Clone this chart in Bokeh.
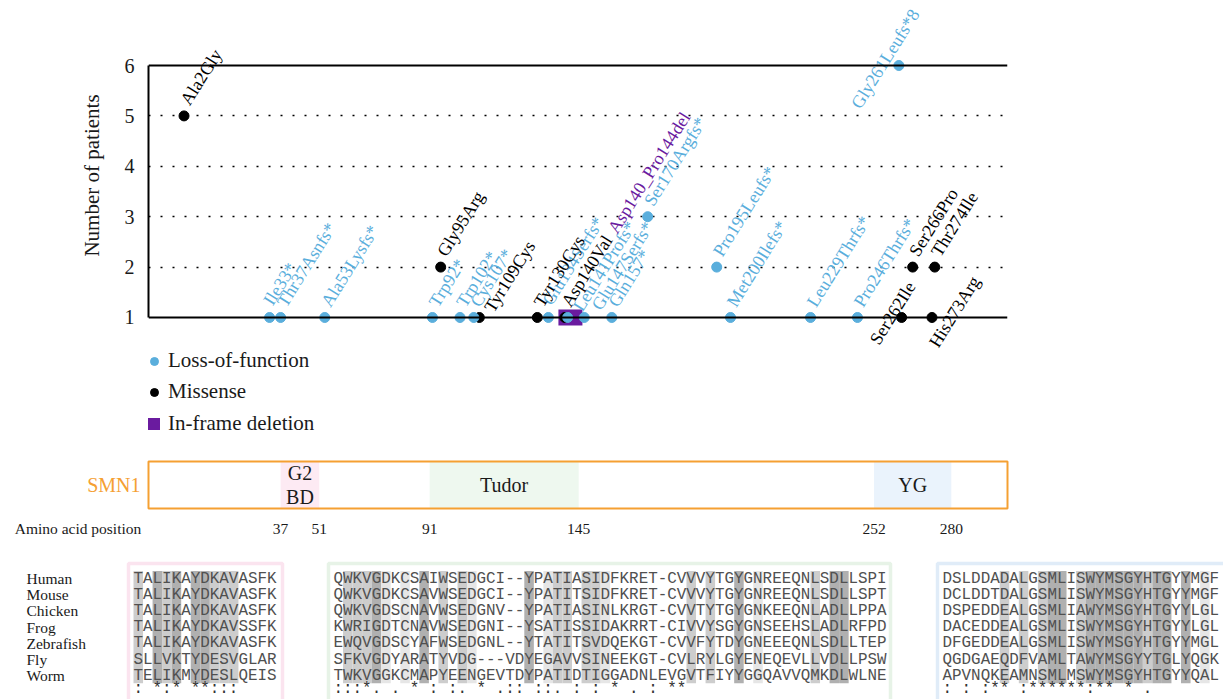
import numpy as np
from bokeh.plotting import figure
from bokeh.models import (ColumnDataSource, Range1d, FixedTicker, Span, Label,
                          Legend, LegendItem)
from bokeh.layouts import column
from bokeh.embed import file_html
from bokeh.resources import INLINE
from bokeh.core.properties import value

# ---------------- data ----------------
lof_labels = ["Ile33*", "Thr37Asnfs*", "Ala53Lysfs*", "Trp92*", "Trp102*", "Cys107*",
              "Glu134Serfs*", "Leu141Profs*", "Glu147Serfs*", "Gln157*", "Ser170Argfs*",
              "Pro195Leufs*", "Met200Ilefs*", "Leu229Thrfs*", "Pro246Thrfs*", "Gly261Leufs*8"]
lof_pos = [33, 37, 53, 92, 102, 107, 134, 141, 147, 157, 170, 195, 200, 229, 246, 261]
lof_patients = [1, 1, 1, 1, 1, 1, 1, 1, 1, 1, 3, 2, 1, 1, 1, 6]

mis_labels = ["Ala2Gly", "Gly95Arg", "Tyr109Cys", "Tyr130Cys", "Asp140Val",
              "Ser262Ile", "Ser266Pro", "His273Arg", "Thr274Ile"]
mis_pos = [2, 95, 109, 130, 140, 262, 266, 273, 274]
mis_patients = [5, 2, 1, 1, 1, 1, 2, 1, 2]

del_labels = ["Asp140_Pro144del"]
del_start = [140]
del_end = [144]
del_patients = [1]

legend_labels = ["Loss-of-function", "Missense", "In-frame deletion"]

domain_names = ["G2\nBD", "Tudor", "YG"]
domain_start = [37, 91, 252]
domain_end = [51, 145, 280]
aa_ticks = [37, 51, 91, 145, 252, 280]

species = ["Human", "Mouse", "Chicken", "Frog", "Zebrafish", "Fly", "Worm"]
g2bd_seqs = ["TALIKAYDKAVASFK", "TALIKAYDKAVASFK", "TALIKAYDKAVASFK", "TALIKAYDKAVSSFK",
             "TALIKAYDKAVASFK", "SLLVKTYDESVGLAR", "TELIKMYDESLQEIS"]
g2bd_cons = ": *:* **:::    "
tudor_seqs = ["QWKVGDKCSAIWSEDGCI--YPATIASIDFKRET-CVVVYTGYGNREEQNLSDLLSPI",
              "QWKVGDKCSAVWSEDGCI--YPATITSIDFKRET-CVVVYTGYGNREEQNLSDLLSPT",
              "QWKVGDSCNAVWSEDGNV--YPATIASINLKRGT-CVVTYTGYGNKEEQNLADLLPPA",
              "KWRIGDTCNAVWSEDGNI--YSATISSIDAKRRT-CIVVYSGYGNSEEHSLADLRFPD",
              "EWQVGDSCYAFWSEDGNL--YTATITSVDQEKGT-CVVFYTDYGNEEEQNLSDLLTEP",
              "SFKVGDYARATYVDG---VDYEGAVVSINEEKGT-CVLRYLGYENEQEVLLVDLLPSW",
              "TWKVGGKCMAPYEENGEVTDYPATIDTIGGADNLEVGVTFIYYGGQAVVQMKDLWLNE"]
tudor_cons = " :::*. . * : :.     * .:: ::.        : :  * .     : **    "
yg_seqs = ["DSLDDADALGSMLISWYMSGYHTGYYMGF", "DCLDDTDALGSMLISWYMSGYHTGYYMGF",
           "DSPEDDEALGSMLIAWYMSGYHTGYYLGL", "DACEDDEALGSMLISWYMSGYHTGYYLGL",
           "DFGEDDEALGSMLISWYMSGYHTGYYMGL", "QGDGAEQDFVAMLTAWYMSGYYTGLYQGK",
           "APVNQKEAMNSMLMSWYMSGYHTGYYQAL"]
yg_cons = "      : : :** :******:** * . "

# ---------------- style / layout ----------------
BLUE = "#5AAEDC"
BLACK = "#000000"
PURPLE = "#6A1B9F"
ORANGE = "#F5A032"
TXT = "#1a1a1a"
SERIF = "Liberation Serif"
MONO = "Liberation Mono"
W = 1223
FL, FR = 148, 216                    # left / right borders of the plot frame (px)
XS, XE = -10.87, 300.36              # amino-acid range shown across the frame
K = (W - FL - FR) / (XE - XS)        # px per amino acid
TH = np.deg2rad(58.0)
DEFAULT_PLACE = (11.0, 6.0)          # (along text, perpendicular) in px
PLACE = {"Ile33*": (11, 9), "Tyr109Cys": (11, -4), "Glu134Serfs*": (11, 9),
         "Leu141Profs*": (12, -4), "Glu147Serfs*": (14, -5),
         "Gly261Leufs*8": (-58, 15), "His273Arg": (-23, -16),
         "Asp140_Pro144del": (95, 10), "Ser262Ile": (34, 10)}
RIGHT = {"Ser262Ile"}


def offs(lab):
    a, q = PLACE.get(lab, DEFAULT_PLACE)
    return a * np.cos(TH) - q * np.sin(TH), -a * np.sin(TH) - q * np.cos(TH)


# ---------------- top plot ----------------
TOPH = 350
xr = Range1d(XS, XE)
p = figure(width=W, height=TOPH, x_range=xr, y_range=Range1d(0.345, 7.29),
           x_axis_location=None, toolbar_location=None, output_backend="svg",
           min_border_left=FL, min_border_right=FR, min_border_top=0, min_border_bottom=0)
p.outline_line_color = None
p.xgrid.visible = False
p.ygrid.ticker = FixedTicker(ticks=[2, 3, 4, 5])
p.ygrid.grid_line_color = "black"
p.ygrid.grid_line_dash = "2 10"
p.ygrid.grid_line_width = 1.3
p.yaxis.ticker = FixedTicker(ticks=[1, 2, 3, 4, 5, 6])
p.yaxis.bounds = (1, 6)
p.yaxis.axis_line_width = 2
p.yaxis.axis_line_color = "black"
p.yaxis.major_tick_line_color = None
p.yaxis.minor_tick_line_color = None
p.yaxis.major_label_standoff = 8
p.yaxis.major_label_text_font = SERIF
p.yaxis.major_label_text_font_size = "20px"
p.yaxis.major_label_text_color = TXT
p.yaxis.axis_label = "Number of patients"
p.yaxis.axis_label_standoff = 18
p.yaxis.axis_label_text_font = SERIF
p.yaxis.axis_label_text_font_size = "21px"
p.yaxis.axis_label_text_font_style = "normal"
p.yaxis.axis_label_text_color = TXT
for loc in (1, 6):
    p.add_layout(Span(location=loc, dimension="width", line_color="black", line_width=2))

del_mid = [(s + e) / 2 for s, e in zip(del_start, del_end)]
p.rect(x=del_mid, y=del_patients, width=24, height=16, width_units="screen",
       height_units="screen", fill_color=PURPLE, line_color=None)
p.scatter(mis_pos, mis_patients, size=10, color=BLACK)
p.scatter(lof_pos, lof_patients, size=10, color=BLUE)

groups = [(lof_labels, lof_pos, lof_patients, BLUE),
          (mis_labels, mis_pos, mis_patients, BLACK),
          (del_labels, del_mid, del_patients, PURPLE)]
for labs, xs, ys, col in groups:
    for align in ("left", "right"):
        sel = [i for i, l in enumerate(labs) if (l in RIGHT) == (align == "right")]
        if not sel:
            continue
        src = ColumnDataSource(dict(
            x=[xs[i] for i in sel], y=[ys[i] for i in sel], t=[labs[i] for i in sel],
            xo=[offs(labs[i])[0] for i in sel], yo=[offs(labs[i])[1] for i in sel]))
        p.text(x="x", y="y", text="t", x_offset="xo", y_offset="yo", source=src,
               angle=TH, text_align=align, text_baseline="alphabetic",
               text_font=value(SERIF), text_font_size="18px", text_color=col)

# ---------------- legend + domain bar ----------------
dom_range = Range1d(XS - FL / K, XE + FR / K)      # same px-per-aa scale, full width
DH, DB = 540 - TOPH, 30
top_units = 1 + (461 - TOPH) / 47
pdm = figure(width=W, height=DH, x_range=dom_range, y_range=Range1d(-2 / 47, top_units),
             y_axis_location=None, toolbar_location=None, output_backend="svg",
             min_border_left=0, min_border_right=0, min_border_top=0, min_border_bottom=DB)
pdm.frame_align = False
pdm.grid.visible = False
pdm.outline_line_color = None
# legend keys: renderers holding a single non-drawn (NaN) point, they only describe the marks above
nan = np.array([np.nan])
k_lof = pdm.scatter(nan, nan, size=10, color=BLUE)
k_mis = pdm.scatter(nan, nan, size=10, color=BLACK)
k_del = pdm.rect(nan, nan, width=1, height=1, fill_color=PURPLE, line_color=None)
leg1 = Legend(items=[LegendItem(label=legend_labels[0], renderers=[k_lof]),
                     LegendItem(label=legend_labels[1], renderers=[k_mis])],
              location=(144, 106), glyph_width=20, glyph_height=24, label_standoff=4,
              spacing=6, padding=0, margin=0, border_line_color=None,
              background_fill_alpha=0, label_text_font=SERIF,
              label_text_font_size="21px", label_text_color=TXT)
leg2 = Legend(items=[LegendItem(label=legend_labels[2], renderers=[k_del])],
              location=(146, 74), glyph_width=15, glyph_height=15, label_standoff=7,
              spacing=0, padding=0, margin=0, border_line_color=None,
              background_fill_alpha=0, label_text_font=SERIF,
              label_text_font_size="21px", label_text_color=TXT)
pdm.add_layout(leg1)
pdm.add_layout(leg2)

pdm.quad(left=domain_start, right=domain_end, bottom=0, top=1,
         fill_color=["#FDEAF3", "#EEF8EF", "#EAF3FC"], line_color=None)
pdm.quad(left=[XS], right=[XE], bottom=[0], top=[1], fill_color=None,
         line_color=ORANGE, line_width=2)
pdm.text(x=[(s + e) / 2 for s, e in zip(domain_start, domain_end)], y=[0.5] * 3,
         text=domain_names, text_align="center", text_baseline="middle",
         text_font=value(SERIF), text_font_size="20px", text_color=TXT,
         text_line_height=1.1)
axis_title_at = round(XS + (77.5 - FL) / K, 2)
pdm.xaxis.ticker = FixedTicker(ticks=[axis_title_at] + aa_ticks)
pdm.xaxis.major_label_overrides = {axis_title_at: "Amino acid position"}
pdm.xaxis.axis_line_color = None
pdm.xaxis.major_tick_line_color = None
pdm.xaxis.minor_tick_line_color = None
pdm.xaxis.major_label_standoff = 3
pdm.xaxis.major_label_text_font = SERIF
pdm.xaxis.major_label_text_font_size = "15.5px"
pdm.xaxis.major_label_text_color = TXT
pdm.add_layout(Label(x=140, y=25.5, x_units="screen", y_units="screen", text="SMN1",
                     text_align="right", text_baseline="middle", text_font=SERIF,
                     text_font_size="20px", text_color=ORANGE))

# ---------------- alignments ----------------
pa = figure(width=W, height=159, x_range=Range1d(0, W), y_range=Range1d(159, 0),
            x_axis_location=None, y_axis_location=None, toolbar_location=None,
            output_backend="svg", min_border=0)
pa.frame_align = False
pa.grid.visible = False
pa.outline_line_color = None
CW = 9.54
ROW0, STEP = 38, 16.2
rows = [ROW0 + STEP * i for i in range(len(species))]
cons_y = rows[-1] + 13
shade = {"*": "#B0B0B0", ":": "#CDCDCD", ".": "#E6E6E6"}
panels = [(g2bd_seqs, g2bd_cons, 133, 128, 282, "#FBE4EF"),
          (tudor_seqs, tudor_cons, 333, 328, 890, "#E7F3E7"),
          (yg_seqs, yg_cons, 942, 937, 1250, "#E0ECF8")]
for seqs, cons, x0, bl, br, bc in panels:
    pa.quad(left=[bl], right=[br], top=[23], bottom=[175], fill_color="white",
            line_color=bc, line_width=3.5)
    cols = [i for i, c in enumerate(cons) if c != " "]
    pa.rect(x=[x0 + (i + 0.5) * CW for i in cols], y=[(rows[0] + rows[-1]) / 2] * len(cols),
            width=CW, height=rows[-1] - rows[0] + 15,
            fill_color=[shade[cons[i]] for i in cols], line_color=None)
    pa.text(x=[x0] * len(seqs), y=rows, text=seqs, text_align="left", text_baseline="middle",
            text_font=value(MONO), text_font_size="15.9px", text_color="#505050")
    pa.text(x=[x0], y=[cons_y], text=[cons], text_align="left", text_baseline="middle",
            text_font=value(MONO), text_font_size="15.9px", text_color="#333333")
pa.text(x=[26] * len(species), y=rows, text=species, text_align="left",
        text_baseline="middle", text_font=value(SERIF), text_font_size="15.5px",
        text_color=TXT)

layout = column(p, pdm, pa)
open("out.html", "w").write(file_html(layout, INLINE))
